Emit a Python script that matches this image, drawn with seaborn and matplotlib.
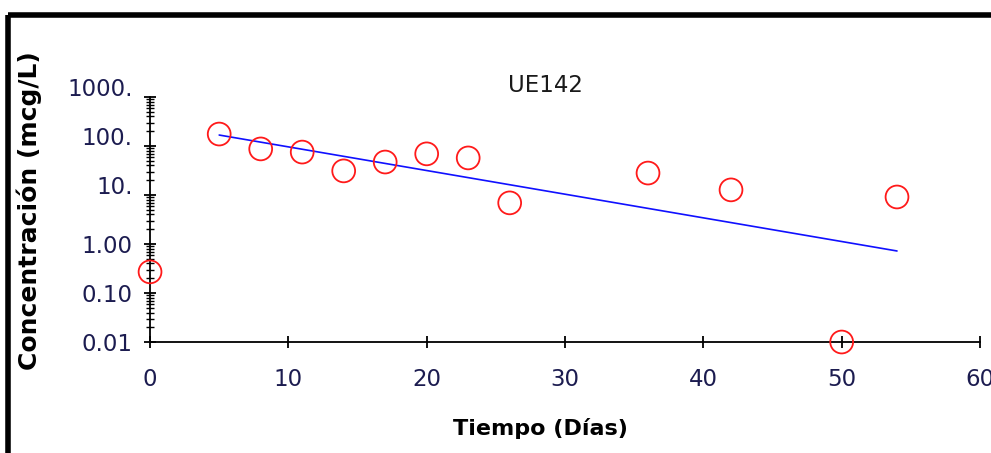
import numpy as np
import pandas as pd
import matplotlib
matplotlib.use("Agg")
import matplotlib.pyplot as plt
import matplotlib.transforms as mtransforms
import seaborn as sns
from matplotlib.lines import Line2D
from matplotlib.ticker import FixedLocator, FixedFormatter, LogLocator, NullFormatter

# datos
tiempo = [0, 5, 8, 11, 14, 17, 20, 23, 26, 36, 42, 50, 54]
concentracion = [0.27, 175, 87, 75, 31, 47, 69, 57, 6.9, 28, 12.7, 0.01, 9.1]

# línea de tendencia (extremos)
tend_x = [5, 54]
tend_y = [167, 0.72]

y_ticks = [0.01, 0.1, 1, 10, 100, 1000]
y_labels = ["0.01", "0.10", "1.00", "10.", "100.", "1000."]
x_ticks = [0, 10, 20, 30, 40, 50, 60]

df = pd.DataFrame({"tiempo": tiempo, "conc": concentracion})
df_t = pd.DataFrame({"tiempo": tend_x, "conc": tend_y})

sns.set_theme(style="ticks")
plt.rcParams["font.family"] = ["DejaVu Sans"]

fig = plt.figure(figsize=(9.91, 4.53), dpi=100)
ax = fig.add_axes([0.1514, 0.245, 0.8375, 0.541])

sns.lineplot(data=df_t, x="tiempo", y="conc", color="#1010ff", linewidth=1.2, ax=ax)
sns.scatterplot(data=df, x="tiempo", y="conc", marker="o", s=270,
                facecolor="none", edgecolor="#ff1a1a", linewidth=1.3,
                ax=ax, clip_on=False, zorder=5)

ax.set_yscale("log")
ax.set_ylim(0.01, 1000)
ax.set_xlim(0, 60)

ax.yaxis.set_major_locator(FixedLocator(y_ticks))
ax.yaxis.set_major_formatter(FixedFormatter(y_labels))
ax.yaxis.set_minor_locator(LogLocator(base=10, subs=np.arange(2, 10)))
ax.yaxis.set_minor_formatter(NullFormatter())
ax.set_xticks(x_ticks)

for s in ["top", "right"]:
    ax.spines[s].set_visible(False)
for s in ["left", "bottom"]:
    ax.spines[s].set_color("black")
    ax.spines[s].set_linewidth(1.3)

ax.tick_params(axis="both", which="major", direction="inout", length=9,
               width=1.3, color="black", labelsize=16.5, labelcolor="#1c1c50",
               left=True, bottom=True)
ax.tick_params(axis="y", which="minor", direction="inout", length=6,
               width=1.0, color="black", left=True)
ax.tick_params(axis="x", which="major", pad=14)
ax.tick_params(axis="y", which="major", pad=8)

# en el original, las etiquetas truncadas quedan algo más arriba
for lab in ax.get_yticklabels():
    if lab.get_text().endswith("."):
        lab.set_transform(lab.get_transform() +
                          mtransforms.ScaledTranslation(0, 7 / 72, fig.dpi_scale_trans))

ax.set_xlabel("")
ax.set_ylabel("")
ax.set_facecolor("white")

fig.text(0.55, 0.812, "UE142", ha="center", va="center", fontsize=16.5, color="#1a1a1a")
fig.text(0.545, 0.055, "Tiempo (Días)", ha="center", va="center",
         fontsize=16, fontweight="bold", color="black")
fig.text(0.03, 0.535, "Concentración (mcg/L)", ha="center", va="center",
         rotation=90, fontsize=18, fontweight="bold", color="black")

# marco negro del gráfico
fig.add_artist(Line2D([0.0085, 1.0], [0.9658, 0.9658], color="black", linewidth=4,
                      transform=fig.transFigure, solid_capstyle="butt"))
fig.add_artist(Line2D([0.0085, 0.0085], [0.0, 0.9658], color="black", linewidth=4,
                      transform=fig.transFigure, solid_capstyle="butt"))

fig.savefig("out.png", dpi=100, facecolor="white")
